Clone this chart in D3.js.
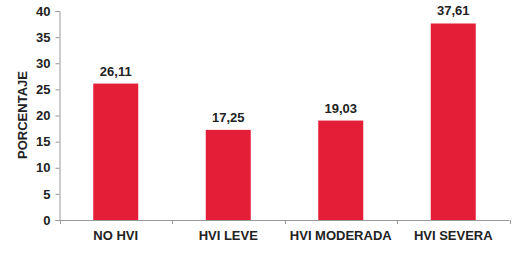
<!DOCTYPE html>
<html>
<head>
<meta charset="utf-8">
<script src="https://cdn.jsdelivr.net/npm/d3@7"></script>
<style>
  body { margin: 0; background: #fff; }
  text { font-family: "Liberation Sans", Arial, sans-serif; font-weight: bold; fill: #222; }
</style>
</head>
<body>
<div id="chart"></div>
<script>
var categories = ["NO HVI", "HVI LEVE", "HVI MODERADA", "HVI SEVERA"];
var values = [26.11, 17.25, 19.03, 37.61];
var yTicks = [0, 5, 10, 15, 20, 25, 30, 35, 40];

var width = 520, height = 255;
var margin = {top: 11, right: 10, bottom: 35, left: 59.5};

var svg = d3.select("#chart").append("svg")
    .attr("width", width)
    .attr("height", height);

var x = d3.scaleBand()
    .domain(categories)
    .range([margin.left, 509.5])
    .paddingInner(0.6)
    .paddingOuter(0.3);

var xTickScale = d3.scaleLinear()
    .domain([0, categories.length])
    .range([margin.left, 509.5]);

var y = d3.scaleLinear()
    .domain([0, 40])
    .range([220, margin.top]);

// y axis
var yAxis = svg.append('g')
    .attr('transform', `translate(${margin.left},0)`)
    .call(d3.axisLeft(y).tickValues(yTicks).tickSize(4).tickPadding(5));
yAxis.select('.domain').attr('stroke', '#999');
yAxis.selectAll('.tick line').attr('stroke', '#999');
yAxis.selectAll('.tick text').style('font-size', '13px').style('font-family', '"Liberation Sans", Arial, sans-serif').attr('fill', '#222');

// x axis line + ticks between categories
svg.append('line')
    .attr('x1', margin.left).attr('x2', 509.5)
    .attr('y1', y(0) + 0.5).attr('y2', y(0) + 0.5)
    .attr('stroke', '#999');
svg.selectAll('line.xtick')
    .data(d3.range(categories.length + 1))
    .enter()
    .append('line')
    .attr('class', 'xtick')
    .attr('x1', d => Math.round(xTickScale(d)) + 0.5)
    .attr('x2', d => Math.round(xTickScale(d)) + 0.5)
    .attr('y1', y(0))
    .attr('y2', y(0) + 4)
    .attr('stroke', '#999');

svg.selectAll('rect.bar')
    .data(values)
    .enter()
    .append('rect')
    .attr('class', 'bar')
    .attr('x', (d, i) => x(categories[i]))
    .attr('width', x.bandwidth())
    .attr('y', d => y(d))
    .attr('height', d => y(0) - y(d))
    .style('fill', '#e31e36');

svg.selectAll('text.valueLabel')
    .data(values)
    .enter()
    .append('text')
    .attr('class', 'valueLabel')
    .attr('x', (d, i) => x(categories[i]) + x.bandwidth() / 2)
    .attr('y', d => y(d) - 8)
    .attr('text-anchor', 'middle')
    .style('font-size', '13px')
    .text(d => d.toFixed(2).replace('.', ','));

svg.selectAll('text.catLabel')
    .data(categories)
    .enter()
    .append('text')
    .attr('class', 'catLabel')
    .attr('x', d => x(d) + x.bandwidth() / 2)
    .attr('y', 240)
    .attr('text-anchor', 'middle')
    .style('font-size', '13px')
    .text(d => d);

svg.append('text')
    .attr('transform', 'translate(27,115) rotate(-90)')
    .attr('text-anchor', 'middle')
    .style('font-size', '13px')
    .text('PORCENTAJE');
</script>
</body>
</html>
